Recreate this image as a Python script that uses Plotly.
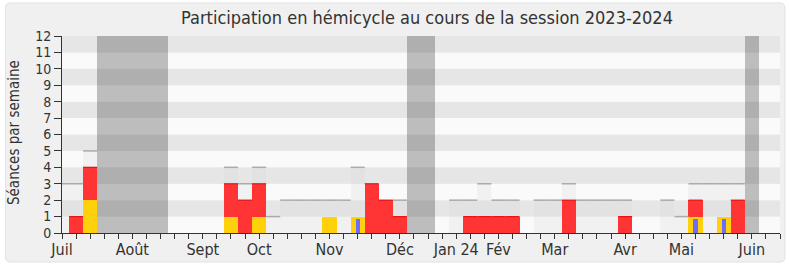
import plotly.graph_objects as go

# ---- data (week index 0 = first week of July 2023) ----
weeks = list(range(0, 51))
totals = [3, 3, 5, 0, 0, 0, 0, 0, 0, 0, 0, 0, 4, 3, 4, 1, 2, 2, 2, 2, 2, 4, 3, 2, 2,
          0, 0, 0, 2, 2, 3, 2, 2, 0, 2, 2, 3, 2, 2, 2, 2, 0, 0, 2, 1, 3, 3, 3, 3, 0, 0]
presences = [0, 1, 4, 0, 0, 0, 0, 0, 0, 0, 0, 0, 3, 2, 3, 0, 0, 0, 0, 1, 0, 1, 3, 2, 1,
             0, 0, 0, 0, 1, 1, 1, 1, 0, 0, 0, 2, 0, 0, 0, 1, 0, 0, 0, 0, 2, 0, 1, 2, 0, 0]
interventions = [0, 0, 2, 0, 0, 0, 0, 0, 0, 0, 0, 0, 1, 0, 1, 0, 0, 0, 0, 1, 0, 1, 0, 0, 0,
                 0, 0, 0, 0, 0, 0, 0, 0, 0, 0, 0, 0, 0, 0, 0, 0, 0, 0, 0, 0, 1, 0, 1, 0, 0, 0]
questions = [0] * 51
for w, v in [(21, 0.87), (45, 0.87), (47, 0.87)]:
    questions[w] = v
vacation_weeks = [3, 4, 5, 6, 7, 25, 26, 49]
month_labels = ["Juil", "Août", "Sept", "Oct", "Nov", "Déc", "Jan 24", "Fév", "Mar", "Avr", "Mai", "Juin"]
month_weeks = [0, 5, 10, 14, 19, 24, 28, 31, 35, 40, 44, 49]

YMAX = 12
XMAX = 51
FONT = "DejaVu Sans Condensed, DejaVu Sans, sans-serif"

fig = go.Figure()

# vacation bands
fig.add_trace(go.Bar(x=vacation_weeks, y=[YMAX] * len(vacation_weeks), width=1,
                     marker=dict(color="rgba(50,50,50,0.3)", line=dict(width=0)),
                     hoverinfo="skip", showlegend=False))
# total sessions fill
fig.add_trace(go.Bar(x=weeks, y=totals, width=1,
                     marker=dict(color="rgba(215,215,215,0.25)", line=dict(width=0)),
                     hoverinfo="skip", showlegend=False))
# total sessions top line (horizontal segments only, hidden where the red bar reaches it)
lx, ly = [], []
for w, t, p in zip(weeks, totals, presences):
    if t > 0 and t > p:
        lx += [w - 0.5, w + 0.5, None]
        ly += [t, t, None]
fig.add_trace(go.Scatter(x=lx, y=ly, mode="lines", line=dict(color="#ababab", width=1.5),
                         hoverinfo="skip", showlegend=False))
# presences
fig.add_trace(go.Bar(x=weeks, y=presences, width=1,
                     marker=dict(color="rgb(255,52,52)", line=dict(width=0)),
                     showlegend=False))
# darker top edge of the red bars
rx_, ry_ = [], []
for w, p, i in zip(weeks, presences, interventions):
    if p > 0 and p > i:
        rx_ += [w - 0.5, w + 0.5, None]
        ry_ += [p, p, None]
fig.add_trace(go.Scatter(x=rx_, y=ry_, mode="lines", line=dict(color="rgb(232,20,20)", width=1.2),
                         hoverinfo="skip", showlegend=False))
# interventions
fig.add_trace(go.Bar(x=weeks, y=interventions, width=1,
                     marker=dict(color="rgb(255,208,12)", line=dict(width=0)),
                     showlegend=False))
# questions
fig.add_trace(go.Bar(x=weeks, y=questions, width=0.3,
                     marker=dict(color="rgb(108,108,255)", line=dict(width=0)),
                     showlegend=False))

# background stripes
shapes = []
for i in range(YMAX):
    shapes.append(dict(type="rect", xref="x", yref="y", x0=0, x1=XMAX, y0=i, y1=i + 1,
                       fillcolor="#e6e6e6" if i % 2 else "#fafafa", line=dict(width=0),
                       layer="below"))
# rounded panel
x0p, x1p = (5.5 - 62) / 718, (785 - 62) / 718
y0p, y1p = (233 - 262) / 197, (233 - 3) / 197
rx, ry = 5 / 718, 5 / 197
path = (f"M {x0p+rx},{y0p} L {x1p-rx},{y0p} Q {x1p},{y0p} {x1p},{y0p+ry} "
        f"L {x1p},{y1p-ry} Q {x1p},{y1p} {x1p-rx},{y1p} L {x0p+rx},{y1p} "
        f"Q {x0p},{y1p} {x0p},{y1p-ry} L {x0p},{y0p+ry} Q {x0p},{y0p} {x0p+rx},{y0p} Z")
shapes.insert(0, dict(type="path", xref="paper", yref="paper", path=path,
                      fillcolor="#f0f0f0", line=dict(color="#e2e2e2", width=1), layer="below"))

ticktext = []
for w in range(0, XMAX + 1):
    ticktext.append(month_labels[month_weeks.index(w)] if w in month_weeks else "")

fig.update_layout(
    width=790, height=267,
    margin=dict(l=62, r=10, t=36, b=34, autoexpand=False),
    paper_bgcolor="white", plot_bgcolor="#fafafa",
    barmode="overlay", bargap=0,
    shapes=shapes,
    font=dict(family=FONT, color="#333333"),
    title=dict(text="Participation en hémicycle au cours de la session 2023-2024",
               x=427 / 790, xanchor="center", y=1 - 18 / 267, yanchor="middle",
               font=dict(size=18, family=FONT, color="#333333"), automargin=False),
    annotations=[dict(text="Séances par semaine", textangle=-90, xref="paper", yref="paper",
                      x=(14 - 62) / 718, y=(233 - 133) / 197, xanchor="center", yanchor="middle",
                      showarrow=False, font=dict(size=15, family=FONT, color="#333333"))],
    xaxis=dict(range=[0, XMAX], tickmode="array", tickvals=list(range(0, XMAX + 1)),
               ticktext=ticktext, ticks="outside", ticklen=5, tickcolor="#333333",
               showline=True, linecolor="#333333", linewidth=1, showgrid=False,
               zeroline=False, tickfont=dict(size=16), automargin=False,
               ticklabelstandoff=-3),
    xaxis2=dict(range=[0, XMAX], overlaying="x", side="top", anchor="y",
                tickmode="array", tickvals=list(range(0, XMAX + 1)),
                ticks="inside", ticklen=1, tickcolor="black", showticklabels=False,
                showline=False, showgrid=False, zeroline=False, automargin=False),
    yaxis=dict(range=[0, YMAX], dtick=1, ticks="outside", ticklen=7, tickcolor="#333333",
               showline=True, linecolor="#333333", linewidth=1, showgrid=False,
               zeroline=False, tickfont=dict(size=14), automargin=False),
)

fig.write_html("out.html")
